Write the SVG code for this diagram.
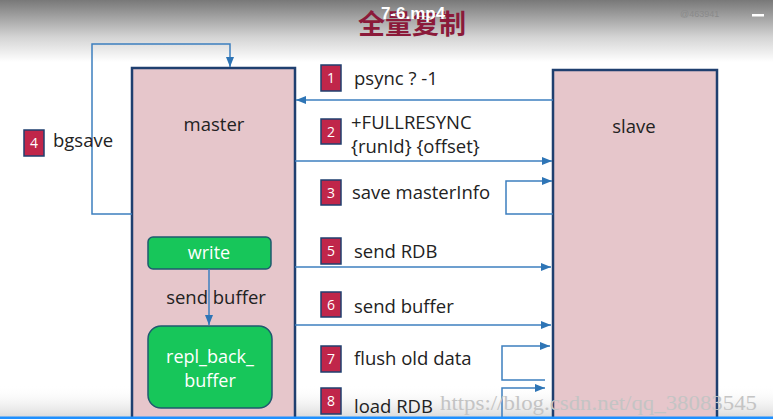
<svg xmlns="http://www.w3.org/2000/svg" width="773" height="419" viewBox="0 0 773 419">
<defs>
<linearGradient id="topg" x1="0" y1="0" x2="0" y2="1">
<stop offset="0" stop-color="#787878"/>
<stop offset="0.6" stop-color="#d4d4d4"/>
<stop offset="1" stop-color="#ffffff"/>
</linearGradient>
<linearGradient id="botg" x1="0" y1="0" x2="0" y2="1">
<stop offset="0" stop-color="#ffffff" stop-opacity="0"/>
<stop offset="1" stop-color="#d6d6d6"/>
</linearGradient>
<marker id="ah" viewBox="0 0 10 8" refX="10" refY="4" markerWidth="10" markerHeight="8" markerUnits="userSpaceOnUse" orient="auto">
<path d="M0,0 L10,4 L0,8 Z" fill="#2e75b6"/>
</marker>
<style>
.box{fill:#e6c6cb;stroke:#1f3f6f;stroke-width:2.5}
.gbox{fill:#17c65a;stroke:#1f5a6f;stroke-width:1.5}
.ln{fill:none;stroke:#3d7fbf;stroke-width:1.5}
.badge{fill:#c0264a;stroke:#1f3f6f;stroke-width:1.5}
.bn{font-family:"Open Sans","DejaVu Sans",sans-serif;font-size:14px;fill:#ffffff;text-anchor:middle}
.lbl{font-family:"Open Sans","DejaVu Sans",sans-serif;font-size:18.5px;fill:#222222}
.wt{font-family:"Open Sans","DejaVu Sans",sans-serif;font-size:18px;fill:#ffffff;text-anchor:middle}
</style>
</defs>
<rect x="0" y="0" width="773" height="419" fill="#ffffff"/>
<rect x="0" y="0" width="773" height="62" fill="url(#topg)"/>
<rect x="0" y="385" width="773" height="34" fill="url(#botg)"/>
<text x="412" y="34" font-family="'Noto Sans CJK SC',sans-serif" font-size="27" font-weight="bold" fill="#8b1a3a" text-anchor="middle">全量复制</text>
<text x="413" y="19" font-family="'Liberation Sans',sans-serif" font-size="17" font-weight="bold" fill="#ffffff" text-anchor="middle">7-6.mp4</text>
<text x="680" y="17" font-family="'Liberation Sans',sans-serif" font-size="9" fill="#8a8a8a">@463941</text>
<rect x="752" y="14" width="12" height="2.5" fill="#ffffff"/>

<g id="master"><rect class="box" x="132" y="68" width="163" height="360"/><text class="lbl" x="214" y="131" text-anchor="middle">master</text></g>
<g id="slave"><rect class="box" x="553" y="70" width="164" height="360"/><text class="lbl" x="634" y="133" text-anchor="middle">slave</text></g>
<g id="write"><rect class="gbox" x="148" y="237" width="123" height="32" rx="5"/><text class="wt" x="209" y="259">write</text></g>
<g id="repl"><rect class="gbox" x="148" y="326" width="124" height="82" rx="13"/><text class="wt" x="210" y="363">repl_back_</text><text class="wt" x="210" y="387">buffer</text></g>

<g id="connectors">
<path class="ln" d="M132,214 H92 V44 H230 V67" marker-end="url(#ah)"/>
<path class="ln" d="M553,100 H296" marker-end="url(#ah)"/>
<path class="ln" d="M295,161 H552" marker-end="url(#ah)"/>
<path class="ln" d="M553,214 H506 V181 H552" marker-end="url(#ah)"/>
<path class="ln" d="M295,267 H551" marker-end="url(#ah)"/>
<path class="ln" d="M295,325 H551" marker-end="url(#ah)"/>
<path class="ln" d="M545,380 H502 V346 H550" marker-end="url(#ah)"/>
<path class="ln" d="M502,419 V388 H545" marker-end="url(#ah)"/>
<path class="ln" d="M209,269 V325" marker-end="url(#ah)"/>
</g>

<g id="labels">
<rect class="badge" x="321" y="65" width="20" height="26"/><text class="bn" x="331" y="83">1</text>
<text class="lbl" x="354" y="85">psync ? -1</text>
<rect class="badge" x="321" y="119" width="20" height="25"/><text class="bn" x="331" y="137">2</text>
<text class="lbl" x="351" y="129">+FULLRESYNC</text>
<text class="lbl" x="351" y="153">{runId} {offset}</text>
<rect class="badge" x="321" y="180" width="20" height="25"/><text class="bn" x="331" y="198">3</text>
<text class="lbl" x="352" y="199">save masterInfo</text>
<rect class="badge" x="24" y="130" width="20" height="26"/><text class="bn" x="34" y="148">4</text>
<text class="lbl" x="53" y="147">bgsave</text>
<rect class="badge" x="321" y="238" width="20" height="26"/><text class="bn" x="331" y="256">5</text>
<text class="lbl" x="354" y="258">send RDB</text>
<text class="lbl" x="216" y="304" text-anchor="middle">send buffer</text>
<rect class="badge" x="321" y="292" width="20" height="25"/><text class="bn" x="331" y="310">6</text>
<text class="lbl" x="354" y="313">send buffer</text>
<rect class="badge" x="321" y="346" width="20" height="26"/><text class="bn" x="331" y="364">7</text>
<text class="lbl" x="354" y="365">flush old data</text>
<rect class="badge" x="321" y="388" width="20" height="26"/><text class="bn" x="331" y="406">8</text>
<text class="lbl" x="354" y="413">load RDB</text>
</g>
<text x="440" y="410" font-family="'Liberation Serif',serif" font-size="20" fill="#c4c4c4" textLength="317" lengthAdjust="spacingAndGlyphs">https://blog.csdn.net/qq_38083545</text>
<rect x="0" y="416.5" width="773" height="2.5" fill="#1e90ff"/>
</svg>
